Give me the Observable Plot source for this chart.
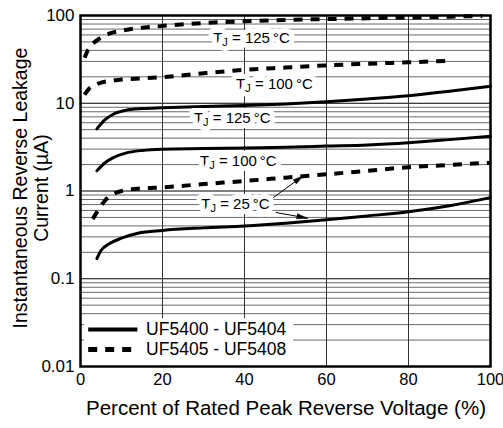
<!DOCTYPE html>
<html><head><meta charset="utf-8">
<script src="https://cdn.jsdelivr.net/npm/d3@7"></script>
<script src="https://cdn.jsdelivr.net/npm/@observablehq/plot@0.6"></script>
<style>body{margin:0;background:#fff} svg{display:block}</style>
</head><body><div id="chart"></div>
<script>
// ---- data ----
const xTicks = [0, 20, 40, 60, 80, 100];
const yTicks = [0.01, 0.1, 1, 10, 100];
const xTitle = "Percent of Rated Peak Reverse Voltage (%)";
const yTitle = ["Instantaneous Reverse Leakage", "Current (\u00b5A)"];

// UF5405 - UF5408 (dashed)
const pctD125 = [1, 2, 4, 7, 10, 20, 30, 40, 50, 60, 70, 80, 90, 98];
const valD125 = [33, 42, 52, 62, 67, 76, 82, 86, 89, 91, 93, 95, 97, 99];
const pctD100 = [1, 2, 4, 7, 10, 20, 30, 40, 50, 60, 70, 80, 90];
const valD100 = [12.5, 14.5, 16.5, 18, 18.6, 19.8, 22, 24, 25.5, 27, 28.2, 29.3, 30.5];
const pctD25 = [3, 6, 10, 15, 20, 30, 40, 50, 60, 70, 80, 90, 100];
const valD25 = [0.48, 0.78, 1.0, 1.07, 1.1, 1.2, 1.3, 1.42, 1.55, 1.7, 1.87, 1.98, 2.1];
// UF5400 - UF5404 (solid)
const pctS125 = [4, 6, 8, 11, 15, 20, 30, 40, 50, 60, 70, 80, 90, 100];
const valS125 = [5.1, 6.5, 7.5, 8.3, 8.7, 8.9, 9.2, 9.4, 9.8, 10.4, 11.2, 12.2, 13.7, 15.6];
const pctS100 = [4, 6, 8, 11, 15, 20, 30, 40, 50, 60, 70, 80, 90, 100];
const valS100 = [1.7, 2.1, 2.4, 2.7, 2.9, 3.0, 3.05, 3.1, 3.15, 3.25, 3.35, 3.55, 3.85, 4.2];
const pctS25 = [4, 5, 7, 10, 14, 20, 30, 40, 50, 60, 70, 80, 90, 100];
const valS25 = [0.17, 0.21, 0.25, 0.29, 0.33, 0.355, 0.38, 0.40, 0.43, 0.47, 0.52, 0.58, 0.68, 0.84];

const devices = ["UF5400 - UF5404", "UF5405 - UF5408"];

// annotation labels (x in %, y in µA)
const labelText = ["TJ = 125\u2009\u00b0C", "TJ = 100\u2009\u00b0C", "TJ = 125\u2009\u00b0C", "TJ = 100\u2009\u00b0C", "TJ = 25\u2009\u00b0C"];
const labelPct = [41.7, 47.3, 37, 38.5, 37.8];
const labelVal = [54.7, 16.4, 6.7, 2.17, 0.70];
// arrows from the 25 °C label (start -> tip), head direction in degrees
const arrowPct1 = [47, 47.6], arrowVal1 = [0.84, 0.57];
const arrowPct2 = [54.4, 55.4], arrowVal2 = [1.50, 0.49];
const arrowAngle = [54, 100];

// ---- build ----
const mk = (p, v, dev) => p.map((x, i) => ({x, y: v[i], dev}));
const solid = [mk(pctS125, valS125, 0), mk(pctS100, valS100, 0), mk(pctS25, valS25, 0)];
const dashed = [mk(pctD125, valD125, 1), mk(pctD100, valD100, 1), mk(pctD25, valD25, 1)];
const labels = labelText.map((t, i) => ({t, x: labelPct[i], y: labelVal[i]}));
const arrows = arrowPct1.map((x, i) => ({x1: x, y1: arrowVal1[i], x2: arrowPct2[i], y2: arrowVal2[i], a: arrowAngle[i]}));

const minor = [], major = [];
for (let e = -2; e < 2; e++) for (let m = 1; m < 10; m++) (m === 1 ? major : minor).push(m * 10 ** e);
major.push(100);

const dashStyle = {stroke: "black", strokeWidth: 4, strokeDasharray: "9,8", strokeLinecap: "butt", curve: "monotone-x"};
const solidStyle = {stroke: "black", strokeWidth: 3, curve: "monotone-x"};

const legendRows = [
  {x1: 2, x2: 14, y: 0.0264, tx: 16, label: devices[0], dash: null},
  {x1: 2, x2: 14, y: 0.0156, tx: 16, label: devices[1], dash: "9,8"}
];

const FONT = "'Liberation Sans', Arial, Helvetica, sans-serif";
const chart = Plot.plot({
  width: 503, height: 428,
  marginLeft: 80, marginRight: 13, marginTop: 15, marginBottom: 62,
  style: {fontFamily: FONT, fontSize: "17px", background: "white", color: "black"},
  x: {domain: [0, 100]},
  y: {type: "log", domain: [0.01, 100]},
  marks: [
    Plot.ruleY(minor, {stroke: "#6a6a6a", strokeWidth: 1}),
    Plot.ruleY(major, {stroke: "black", strokeWidth: 1}),
    Plot.ruleX([20, 40, 60, 80], {stroke: "#333", strokeWidth: 1}),
    // legend backdrop
    Plot.rect([{}], {x1: 1, x2: 52, y1: 0.0101, y2: 0.035, fill: "white"}),
    ...solid.map(d => Plot.line(d, {x: "x", y: "y", ...solidStyle})),
    ...dashed.map(d => Plot.line(d, {x: "x", y: "y", ...dashStyle})),
    Plot.text(labels, {x: "x", y: "y", text: "t", fontSize: 15, fill: "black", stroke: "white", strokeWidth: 10}),
    Plot.link(arrows, {x1: "x1", y1: "y1", x2: "x2", y2: "y2", stroke: "black", strokeWidth: 1}),
    Plot.vector(arrows, {x: "x2", y: "y2", rotate: "a", length: 11, r: 2.6, shape: "spike", anchor: "end", fill: "black", stroke: "black", strokeWidth: 0.5}),
    // legend
    Plot.ruleY(legendRows.filter(d => !d.dash), {y: "y", x1: "x1", x2: "x2", stroke: "black", strokeWidth: 4}),
    Plot.ruleY(legendRows.filter(d => d.dash), {y: "y", x1: "x1", x2: "x2", stroke: "black", strokeWidth: 5, strokeDasharray: "9,8"}),
    Plot.text(legendRows, {x: "tx", y: "y", text: "label", textAnchor: "start", fontSize: 17.5, fill: "black"}),
    Plot.axisX({ticks: xTicks, tickSize: 0, tickPadding: 7, label: null, fontSize: 16.5}),
    Plot.axisY({ticks: yTicks, tickSize: 0, tickPadding: 6, label: null, fontSize: 17, tickFormat: d => String(d)}),
    Plot.frame({stroke: "black", strokeWidth: 2.5})
  ]
});

// subscript J in T_J labels
const NS = "http://www.w3.org/2000/svg";
chart.querySelectorAll("text").forEach(t => {
  const s = t.textContent;
  if (s.startsWith("TJ")) {
    t.textContent = "";
    const a = document.createElementNS(NS, "tspan"); a.textContent = "T";
    const b = document.createElementNS(NS, "tspan"); b.textContent = "J";
    b.setAttribute("font-size", "11"); b.setAttribute("dy", "3");
    const c = document.createElementNS(NS, "tspan"); c.textContent = s.slice(2);
    c.setAttribute("dy", "-3");
    t.append(a, b, c);
  }
});

// axis titles
const svg = d3.select(chart);
svg.append("text").attr("x", 286).attr("y", 415).attr("text-anchor", "middle")
  .attr("font-size", 20.5).attr("font-family", FONT).attr("fill", "black").text(xTitle);
yTitle.forEach((line, i) => {
  svg.append("text").attr("transform", `translate(${20 + i * 21},188) rotate(-90)`)
    .attr("text-anchor", "middle").attr("dy", "0.35em")
    .attr("font-size", 19.5).attr("font-family", FONT).attr("fill", "black").text(line);
});

document.getElementById("chart").append(chart);
</script></body></html>
